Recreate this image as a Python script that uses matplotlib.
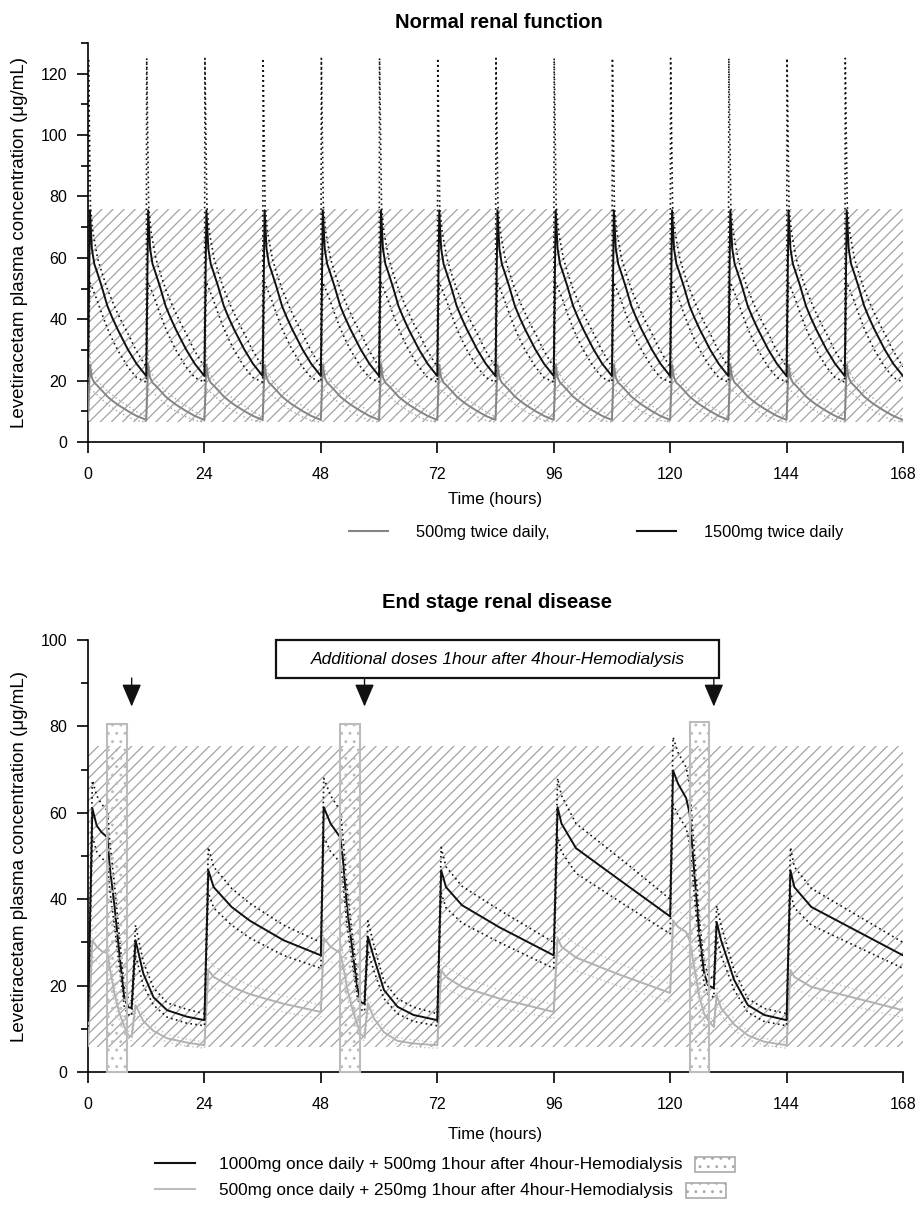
"""Levetiracetam concentration-time profiles: normal renal function vs ESRD."""

import matplotlib
matplotlib.use("Agg")
import matplotlib.pyplot as plt
import numpy as np
from matplotlib.lines import Line2D
from matplotlib.patches import Rectangle

plt.rcParams["font.family"] = ["Liberation Sans", "DejaVu Sans"]
plt.rcParams["hatch.linewidth"] = 0.9

# ── Data: normal renal function (one 12 h interval) ─────────────────────────
DOSES_NORMAL = [0, 12, 24, 36, 48, 60, 72, 84, 96, 108, 120, 132, 144, 156]
CYCLE_T      = [0, 0.4, 0.8, 1.3, 1.8, 2.8, 4.0, 5.0, 6.1, 8.2, 10.0, 12.0]
CYCLE_T_UP   = [0, 0.1, 0.5, 1.0, 2.0, 3.0, 4.0, 5.5, 7.0, 8.5, 9.7, 11.0, 12.0]

MG1500_MED = [21.5, 75.5, 63.0, 58.0, 55.7, 50.8, 44.3, 40.5, 36.7, 30.2, 25.5, 21.5]
MG1500_LO  = [19.5, 52.0, 50.5, 48.5, 46.5, 42.0, 37.0, 33.5, 30.0, 24.5, 21.0, 19.5]
MG1500_HI  = [24.5, 125.0, 77.0, 68.5, 59.7, 54.5, 49.8, 44.0, 39.0, 34.5, 30.5, 27.0, 24.5]
MG500_MED  = [7.2, 25.2, 21.0, 19.3, 18.6, 16.9, 14.8, 13.5, 12.2, 10.1, 8.5, 7.2]
MG500_LO   = [6.5, 17.3, 16.8, 16.2, 15.5, 14.0, 12.3, 11.2, 10.0, 8.2, 7.0, 6.5]
MG500_HI   = [8.2, 41.7, 25.7, 22.8, 19.9, 18.2, 16.6, 14.7, 13.0, 11.5, 10.2, 9.0, 8.2]
BAND_NORMAL = (6.5, 76.0)

# ── Data: end stage renal disease ───────────────────────────────────────────
ESRD_T = [0, 0.9, 1.8, 2.8, 4.0, 4.5, 5.5, 6.5, 7.5, 8.3, 9.0, 9.8, 11.4, 13.5, 16.3, 20.4, 24.0,
          24.8, 25.9, 29.6, 33.4, 40.3, 48.0,
          48.6, 50.0, 52.0, 52.5, 53.4, 54.5, 55.5, 56.2, 57.0, 57.7, 58.9, 61.0, 63.8, 67.1, 72.0,
          72.8, 73.8, 77.1, 84.8, 96.0,
          96.8, 97.6, 100.6, 109.4, 112.6, 120.0,
          120.6, 121.6, 123.3, 124.0, 125.0, 126.0, 127.0, 127.8, 129.0, 129.6, 130.5, 133.2, 136.0, 139.4, 144.0,
          144.8, 145.6, 149.1, 168.0]

MG1000_MED = [12, 61, 57, 55.5, 54.3, 47.4, 38, 27, 17, 15, 14.8, 30.5, 22.8, 17.3, 14.3, 12.8, 12,
              46.7, 42.8, 38.2, 35, 30.5, 27,
              61.3, 57.5, 54.3, 49.8, 38, 28.2, 19.7, 16.2, 15.8, 31.3, 26.6, 19, 15.1, 13.2, 12,
              46.7, 42.8, 38.6, 33.5, 27,
              61.3, 57.5, 51.8, 44.6, 42.0, 36.0,
              69.8, 66.8, 63.4, 59.9, 46, 32.1, 22.9, 20.1, 19.4, 34.7, 30.5, 21.3, 15.5, 13.2, 12,
              46.7, 42.8, 38.2, 27]
MG1000_HI  = [13.5, 67.5, 64, 62, 60.5, 53, 43, 31, 19.5, 17, 16.5, 34, 25.5, 19.5, 16, 14.5, 13.5,
              52, 47.5, 42.5, 39, 34, 30,
              68, 64, 60.5, 55, 42.5, 31.5, 22, 18, 17.5, 35, 29.5, 21, 17, 15, 13.5,
              52, 47.5, 43, 37.5, 30,
              68, 64, 57.5, 49.7, 46.8, 40,
              77.5, 74, 70.5, 66.5, 51, 35.5, 25.5, 22.5, 21.5, 38.5, 34, 23.5, 17, 14.7, 13.5,
              52, 47.5, 42.5, 30]
MG1000_LO  = [10.5, 54.5, 51, 49.5, 48.5, 42, 33.5, 24, 15, 13.3, 13, 27, 20, 15.5, 12.7, 11.3, 10.7,
              41.5, 38, 34, 31, 27, 24,
              54.5, 51, 48.5, 44.5, 34, 25, 17.5, 14.5, 14, 28, 23.5, 17, 13.5, 11.7, 10.7,
              41.5, 38, 34.5, 30, 24,
              54.5, 51, 46, 39.6, 37.3, 32,
              62, 59.5, 56.5, 53, 41, 28.5, 20.5, 18, 17.3, 31, 27, 19, 13.8, 11.7, 10.7,
              41.5, 38, 34, 24]
MG500D_MED = [6, 30.5, 29, 28, 27.5, 24, 18, 13.5, 10.5, 8.5, 8.2, 15.5, 11.8, 9.5, 7.8, 6.8, 6.2,
              23.6, 22, 19.7, 18, 15.8, 13.9,
              31, 29, 27.5, 25, 19.5, 14.5, 11, 8.8, 8.1, 15.9, 12.5, 9.2, 7.2, 6.6, 6.2,
              23.6, 22, 19.7, 17, 13.9,
              31, 29, 26.5, 22.6, 21.3, 18.3,
              35.1, 33.6, 32.4, 30.5, 24, 17.5, 13.5, 12, 10.4, 17.8, 14.8, 11, 8.5, 7, 6.2,
              23.6, 22, 19.7, 14.3]
MG500D_HI  = [6.8, 34, 32, 31, 30.5, 26.5, 20, 15, 11.7, 9.5, 9.2, 17.3, 13.2, 10.6, 8.7, 7.6, 6.9,
              26.3, 24.5, 22, 20, 17.6, 15.5,
              34.5, 32.3, 30.6, 27.8, 21.7, 16.2, 12.3, 9.8, 9, 17.7, 13.9, 10.3, 8, 7.4, 6.9,
              26.3, 24.5, 22, 19, 15.5,
              34.5, 32.3, 29.5, 25.2, 23.7, 20.4,
              39, 37.4, 36, 34, 26.7, 19.5, 15, 13.4, 11.6, 19.8, 16.5, 12.3, 9.5, 7.8, 6.9,
              26.3, 24.5, 22, 16]
MG500D_LO  = [5.3, 27, 25.6, 24.7, 24.3, 21.2, 15.9, 11.9, 9.3, 7.5, 7.2, 13.7, 10.4, 8.4, 6.9, 6, 5.5,
              20.8, 19.4, 17.4, 15.9, 13.9, 12.3,
              27.4, 25.6, 24.3, 22.1, 17.2, 12.8, 9.7, 7.8, 7.2, 14, 11, 8.1, 6.4, 5.8, 5.5,
              20.8, 19.4, 17.4, 15, 12.3,
              27.4, 25.6, 23.4, 19.9, 18.8, 16.2,
              31, 29.7, 28.6, 27, 21.2, 15.5, 11.9, 10.6, 9.2, 15.7, 13.1, 9.7, 7.5, 6.2, 5.5,
              20.8, 19.4, 17.4, 12.6]
BAND_ESRD  = (5.8, 75.5)
HD_START   = [4, 52, 124]
HD_HOURS   = 4
HD_TOP     = [80.5, 80.5, 81.0]
EXTRA_DOSE = [9, 57, 129]

BLACK, GREY_N, GREY_E = "#111111", "#858585", "#b2b2b2"
DOT = (0, (1, 2))


def tile(offsets, values):
    t = np.concatenate([d + np.asarray(offsets) for d in DOSES_NORMAL])
    v = np.tile(values, len(DOSES_NORMAL))
    return t, v


def style_axes(ax, ymax):
    ax.set_xlim(0, 168)
    ax.set_ylim(0, ymax)
    ax.spines[["top", "right"]].set_visible(False)
    for s in ("left", "bottom"):
        ax.spines[s].set_linewidth(1.2)
    ax.set_xticks(range(0, 169, 24))
    ax.set_yticks(np.arange(0, ymax - 9, 20) if ymax > 120 else np.arange(0, ymax + 1, 20))
    ax.set_yticks(np.arange(10, ymax + 1, 20), minor=True)
    ax.tick_params(axis="both", direction="out", length=8, width=1.2, labelsize=11.5)
    ax.tick_params(axis="y", which="minor", length=5, width=1.2)
    ax.tick_params(axis="x", pad=10)
    ax.tick_params(axis="y", pad=7)
    ax.set_xlabel("Time (hours)", fontsize=12)
    ax.set_ylabel("Levetiracetam plasma concentration (μg/mL)", fontsize=13.5)
    ax.yaxis.set_label_coords(-0.074, 0.5)


fig = plt.figure(figsize=(9.15, 12.15), dpi=100)
ax1 = fig.add_axes([88 / 915, 1 - 442 / 1215, 815 / 915, 399 / 1215])
ax2 = fig.add_axes([88 / 915, 1 - 1072 / 1215, 815 / 915, 432 / 1215])

# ── Panel 1: normal renal function ───────────────────────────────────────────
ax1.axhspan(*BAND_NORMAL, facecolor="none", edgecolor="#a3a3a3", hatch="///", lw=0, zorder=0)
ax1.plot(*tile(CYCLE_T, MG500_LO), color="#a5a5a5", lw=1.0, ls=DOT, zorder=2)
ax1.plot(*tile(CYCLE_T_UP, MG500_HI), color="#a5a5a5", lw=1.0, ls=DOT, zorder=2)
ax1.plot(*tile(CYCLE_T, MG500_MED), color=GREY_N, lw=1.4, zorder=3)
ax1.plot(*tile(CYCLE_T, MG1500_LO), color=BLACK, lw=1.2, ls=DOT, zorder=4)
ax1.plot(*tile(CYCLE_T_UP, MG1500_HI), color=BLACK, lw=1.2, ls=DOT, zorder=4)
ax1.plot(*tile(CYCLE_T, MG1500_MED), color=BLACK, lw=1.4, zorder=5)
style_axes(ax1, 130)
ax1.xaxis.set_label_coords(0.5, -0.125)
fig.text(499 / 915, 1 - 22 / 1215, "Normal renal function", ha="center", va="center",
         fontsize=14.5, fontweight="bold")

ax1.legend(handles=[Line2D([], [], color=GREY_N, lw=1.5), Line2D([], [], color=BLACK, lw=1.5)],
           labels=["500mg twice daily,", "1500mg twice daily"], ncol=2, frameon=False,
           loc="center", bbox_to_anchor=(596 / 915, 1 - 532 / 1215), bbox_transform=fig.transFigure,
           fontsize=11.8, handlelength=2.4, handletextpad=1.7, columnspacing=5.3)

# ── Panel 2: end stage renal disease ────────────────────────────────────────
ax2.axhspan(*BAND_ESRD, facecolor="none", edgecolor="#a3a3a3", hatch="///", lw=0, zorder=0)
ax2.plot(ESRD_T, MG500D_LO, color="#c2c2c2", lw=1.0, ls=DOT, zorder=2)
ax2.plot(ESRD_T, MG500D_HI, color="#c2c2c2", lw=1.0, ls=DOT, zorder=2)
ax2.plot(ESRD_T, MG500D_MED, color=GREY_E, lw=1.4, zorder=3)
ax2.plot(ESRD_T, MG1000_LO, color=BLACK, lw=1.2, ls=DOT, zorder=4)
ax2.plot(ESRD_T, MG1000_HI, color=BLACK, lw=1.2, ls=DOT, zorder=4)
ax2.plot(ESRD_T, MG1000_MED, color=BLACK, lw=1.4, zorder=5)

for start, top in zip(HD_START, HD_TOP):
    ax2.add_patch(Rectangle((start, 0), HD_HOURS, top, facecolor="none", edgecolor="#bcbcbc",
                            hatch="..", lw=1.5, zorder=6, clip_on=False))

for x in EXTRA_DOSE:
    ax2.annotate("", xy=(x, 84.6), xytext=(x, 91.2),
                 arrowprops=dict(arrowstyle="-|>,head_length=0.7,head_width=0.3",
                                 color=BLACK, lw=1.0, mutation_scale=20,
                                 shrinkA=0, shrinkB=0))

ax2.add_patch(Rectangle((38.8, 91.2), 130 - 38.8, 8.7, facecolor="white", edgecolor=BLACK,
                        lw=1.6, zorder=7, clip_on=False))
ax2.text((38.8 + 130) / 2, 95.55, "Additional doses 1hour after 4hour-Hemodialysis",
         ha="center", va="center", fontsize=12.5, style="italic", zorder=8)

style_axes(ax2, 100)
ax2.xaxis.set_label_coords(0.5, -0.127)
fig.text(497 / 915, 1 - 603 / 1215, "End stage renal disease", ha="center", va="center",
         fontsize=14.5, fontweight="bold")

leg2 = fig.legend(handles=[Line2D([], [], color=BLACK, lw=1.5), Line2D([], [], color="#bdbdbd", lw=1.5)],
                  labels=["1000mg once daily + 500mg 1hour after 4hour-Hemodialysis",
                          "500mg once daily + 250mg 1hour after 4hour-Hemodialysis"],
                  frameon=False, loc="center left", bbox_to_anchor=(155 / 915, 1 - 1177.5 / 1215),
                  fontsize=12.4, handlelength=2.35, handletextpad=1.35, labelspacing=0.6,
                  borderpad=0, borderaxespad=0)

# dotted hemodialysis swatches placed after each legend label
fig.canvas.draw()
renderer = fig.canvas.get_renderer()
to_fig = fig.transFigure.inverted()
for txt in leg2.get_texts():
    bb = txt.get_window_extent(renderer)
    yc = (bb.y0 + bb.y1) / 2
    (x0, y0), (x1, y1) = to_fig.transform([(bb.x1 + 13, yc - 7.5), (bb.x1 + 53, yc + 7.5)])
    fig.add_artist(Rectangle((x0, y0), x1 - x0, y1 - y0, transform=fig.transFigure,
                             facecolor="white", edgecolor="#aaaaaa", hatch="..", lw=1.2))

fig.savefig("out.png", dpi=100)
